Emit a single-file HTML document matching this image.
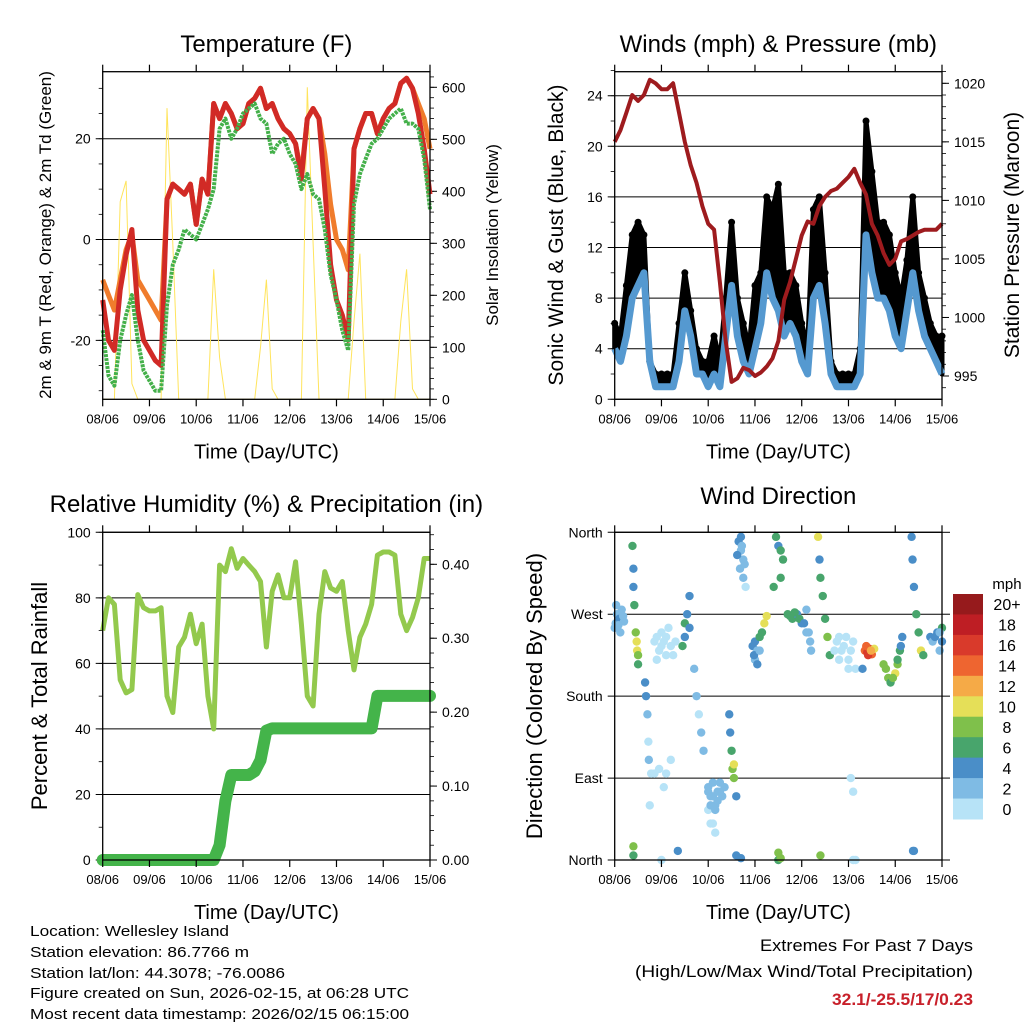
<!DOCTYPE html>
<html><head><meta charset="utf-8">
<style>
html,body{margin:0;padding:0;background:#fff;}
svg{display:block;font-family:"Liberation Sans",Arial,sans-serif;}
</style></head>
<body>
<svg id="chart" width="1024" height="1024" viewBox="0 0 1024 1024" xmlns="http://www.w3.org/2000/svg">
<rect width="1024" height="1024" fill="#fff"/>
<g id="layer"></g>
<g font-size="15" fill="#000">
<text x="30" y="936" textLength="199" lengthAdjust="spacingAndGlyphs">Location: Wellesley Island</text>
<text x="30" y="957" textLength="219" lengthAdjust="spacingAndGlyphs">Station elevation: 86.7766 m</text>
<text x="30" y="978" textLength="255" lengthAdjust="spacingAndGlyphs">Station lat/lon: 44.3078; -76.0086</text>
<text x="30" y="998" textLength="379" lengthAdjust="spacingAndGlyphs">Figure created on Sun, 2026-02-15, at 06:28 UTC</text>
<text x="30" y="1019" textLength="379" lengthAdjust="spacingAndGlyphs">Most recent data timestamp: 2026/02/15 06:15:00</text>
</g>
<g font-size="17" text-anchor="end">
<text x="973" y="951" textLength="213" lengthAdjust="spacingAndGlyphs">Extremes For Past 7 Days</text>
<text x="973" y="977" textLength="338" lengthAdjust="spacingAndGlyphs">(High/Low/Max Wind/Total Precipitation)</text>
<text x="973" y="1005" fill="#c8202a" font-weight="bold" textLength="141" lengthAdjust="spacingAndGlyphs">32.1/-25.5/17/0.23</text>
</g>
</svg>
<script>
// ---- data (3-hour steps, day 0..7) ----
var dayLabels = ["08/06","09/06","10/06","11/06","12/06","13/06","14/06","15/06"];
var temp2m = [-12,-20,-22,-10,-3,2,-14,-20,-22,-24,-25,8,11,10,9,11,3,12,9,27,24,27,25,22,23,27,28,30,26,27,24,22,21,19,12,24,26,24,10,-5,-12,-15,-20,18,22,25,25,21,24,26,27,31,32,30,25,18,9];
var temp9m = [-8,-11,-14,-8,-2,1,-8,-10,-12,-14,-16,8,11,10,9,11,3,12,9,27,24,27,25,22,23,27,28,30,26,27,24,22,21,19,13,24,26,24,17,7,0,-2,-6,18,22,25,25,21,24,26,27,31,32,30,27,24,18];
var dewpt = [-18,-27,-29,-20,-15,-11,-20,-26,-28,-30,-30,-13,-5,-2,2,1,0,3,6,10,22,24,20,22,25,26,27,24,23,17,19,20,17,15,10,13,9,8,2,-7,-12,-18,-22,7,13,16,19,20,22,24,25,26,23,23,22,16,6];
var solar = [0,0,0,380,420,30,0,0,0,0,0,560,300,0,0,0,0,0,0,250,80,0,0,0,0,0,0,100,230,20,0,0,0,0,0,600,300,0,0,0,0,0,0,150,280,0,0,0,0,0,0,150,250,20,0,0,0];
var windMean = [4,3,5,8,9,10,3,1,1,1,1,3,7,5,2,2,1,2,1,5,9,5,3,2,4,6,10,8,7,5,6,5,3,2,8,9,6,2,1,1,1,1,2,13,10,8,8,7,5,4,7,10,7,5,4,3,2];
var windGust = [6,5,9,13,14,13,3,2,2,2,2,6,10,7,4,3,3,5,3,8,14,8,6,4,9,10,16,15,17,10,10,9,6,4,15,16,10,3,2,2,2,2,4,22,18,14,14,13,10,8,11,16,10,8,6,5,5];
var pressure = [1015,1016,1017.5,1019,1018.5,1019,1020.3,1020,1019.5,1019.5,1020,1017.5,1015,1013,1011.5,1009.5,1008,1007.5,1003,998,994.5,994.8,995.7,995.5,995,995.3,995.8,996.5,998,1001.5,1003,1005,1007,1008.2,1008,1009.5,1010.3,1010.8,1011,1011.5,1012,1012.7,1011.5,1010.5,1008,1007,1005.5,1004.5,1005,1006.5,1006.7,1007,1007.3,1007.5,1007.5,1007.5,1008];
var humidity = [70,80,78,55,51,52,81,77,76,76,77,50,45,65,68,75,66,72,50,40,90,88,95,89,92,90,88,85,65,82,87,80,80,91,72,50,47,75,88,83,82,85,70,58,68,72,78,93,94,94,93,75,70,74,80,92,92];
var rainfall = [0,0,0,0,0,0,0,0,0,0,0,0,0,0,0,0,0,0,0,0,0.02,0.08,0.115,0.115,0.115,0.115,0.12,0.135,0.175,0.178,0.178,0.178,0.178,0.178,0.178,0.178,0.178,0.178,0.178,0.178,0.178,0.178,0.178,0.178,0.178,0.178,0.178,0.222,0.222,0.222,0.222,0.222,0.222,0.222,0.222,0.222,0.222];
// wind direction scatter: time (days), direction (deg), speed (mph)
var dirTime = [0.02,0.05,0.1,0.15,0.2,0.38,0.4,0.4,0.42,0.45,0.48,0.5,0.5,0.47,0.65,0.67,0.7,0.72,0.73,0.78,0.75,0.9,0.95,1.0,1.05,1.1,1.15,1.2,0.85,0.95,1.05,1.1,1.2,1.45,1.5,1.55,1.5,1.6,1.6,1.7,1.75,1.8,1.85,1.9,2.0,2.05,2.1,2.15,2.2,2.25,2.3,2.35,2.1,2.0,2.45,2.47,2.5,2.52,2.55,2.55,2.6,2.65,2.7,2.75,2.7,2.75,2.8,2.95,3.0,3.05,3.1,3.15,3.2,3.25,3.0,3.45,3.5,3.55,3.6,3.55,3.4,3.5,3.55,3.7,3.8,3.9,4.0,4.1,4.15,4.2,4.35,4.38,4.4,4.45,4.5,4.55,4.6,4.7,4.8,4.9,5.0,5.1,5.15,5.05,5.1,5.35,5.4,5.45,5.5,5.55,5.3,5.75,5.85,5.9,6.0,6.05,6.1,6.15,6.35,6.37,6.4,6.45,6.5,6.55,6.6,6.38,6.75,6.8,6.9,7.0,6.95,0.4,0.4,1.35,2.6,2.7,3.5,4.4,6.4,1.0,5.1,5.15,
  0.0,0.08,0.12,0.18,0.03,0.85,1.0,1.1,1.25,1.3,0.9,2.0,2.05,2.1,2.15,2.2,2.25,2.05,2.15,2.68,2.72,2.78,2.62,2.98,3.05,3.1,3.75,3.85,3.95,4.05,4.1,4.18,4.75,4.85,4.95,5.05,5.0,4.8,5.38,5.42,5.48,5.8,5.95,6.05,6.12,6.85,6.95,7.0];
var dirDeg = [260,270,265,275,262,345,320,300,280,250,230,225,215,240,195,180,160,130,110,95,60,245,230,250,240,225,255,235,95,100,80,95,110,235,260,270,245,255,290,210,180,160,140,120,80,70,85,60,75,85,70,80,40,55,160,140,120,100,105,90,70,350,340,330,355,310,300,235,240,230,245,250,260,268,220,355,345,340,330,310,300,0,2,270,265,270,260,275,250,230,355,330,310,290,265,245,225,230,245,235,220,240,210,90,75,230,228,232,226,232,210,215,200,195,205,215,230,245,355,330,300,270,250,230,225,10,245,240,250,255,230,5,15,10,5,2,8,5,10,0,0,0,
  255,258,250,268,280,240,235,245,225,240,220,75,60,70,55,65,75,40,30,320,345,325,335,225,215,230,268,272,265,260,250,240,240,230,245,230,210,220,235,225,230,210,200,220,235,245,250,240];
var dirSpeed = [3,2,4,2,3,6,4,4,6,8,10,8,7,10,4,4,2,0,2,0,0,0,0,0,1,0,0,1,0,0,0,0,0,6,6,4,4,4,4,2,2,1,2,3,3,2,3,3,3,2,2,2,1,1,4,4,6,8,10,8,4,4,2,2,4,2,1,4,4,3,6,6,10,10,2,6,4,6,6,6,6,6,8,6,6,4,4,3,3,2,10,4,6,6,6,8,6,1,0,1,0,1,0,0,0,14,16,16,14,10,4,8,8,6,10,8,6,4,4,4,4,6,6,10,6,4,4,3,4,6,2,6,8,4,4,4,8,8,4,0,0,0,
  3,3,2,3,2,0,0,1,0,1,0,2,2,3,2,3,2,1,1,2,2,2,4,4,4,3,6,6,6,4,3,2,1,0,1,1,0,0,14,16,12,8,8,6,4,4,3,4];
var speedBins = ["0","2","4","6","8","10","12","14","16","18","20+"];
var binColors = ["#b7e3f7","#7fbbe4","#4a8ec8","#48a56c","#7fc04b","#e5df58","#f5aa47","#ee6530","#d93a2b","#be1e24","#961a1c"];

var NS="http://www.w3.org/2000/svg";
var root=document.getElementById('layer');
function mk(tag,attrs,parent){var e=document.createElementNS(NS,tag);for(var k in attrs)e.setAttribute(k,attrs[k]);(parent||root).appendChild(e);return e;}
function txt(s,attrs,parent){var e=mk('text',attrs,parent);e.textContent=s;return e;}
function lin(a0,a1,p0,p1){return function(v){return p0+(v-a0)/(a1-a0)*(p1-p0);};}
function idxDay(i){return i/8;}

function panel(name,L,T,R,B){
  var g=mk('g',{});
  
  
  var x=lin(0,7,L,R);
  return {g:g,x:x,L:L,T:T,R:R,B:B};
}
function frameAndTime(p,title,titleY){
  var g=p.g;
  var fr=mk('rect',{x:p.L,y:p.T,width:p.R-p.L,height:p.B-p.T,fill:'none',stroke:'#000','stroke-width':1.3},g);
  
  
  for(var i=0;i<dayLabels.length;i++){
    var xx=p.x(i);
    mk('line',{x1:xx,y1:p.B,x2:xx,y2:p.B+7,stroke:'#000','stroke-width':1.2},g);
    mk('line',{x1:xx,y1:p.T,x2:xx,y2:p.T-7,stroke:'#000','stroke-width':1.2},g);
    var t=txt(dayLabels[i],{x:xx,y:p.B+24,'font-size':13,'text-anchor':'middle'},g);
    
    
  }
  var xt=txt('Time (Day/UTC)',{x:(p.L+p.R)/2,y:p.B+59,'font-size':20,'text-anchor':'middle'},g);
  
  
  var tt=txt(title,{x:(p.L+p.R)/2,y:titleY,'font-size':24,'text-anchor':'middle'},g);
  
  
}
function leftAxis(p,y,ticks,labels,minor,grid){
  var g=p.g;
  for(var i=0;i<minor.length;i++){mk('line',{x1:p.L,y1:y(minor[i]),x2:p.L-4,y2:y(minor[i]),stroke:'#000','stroke-width':0.8},g);}
  for(var i=0;i<ticks.length;i++){
    var yy=y(ticks[i]);
    if(grid) mk('line',{x1:p.L-7,y1:yy,x2:p.R,y2:yy,stroke:'#000','stroke-width':1},g);
    else mk('line',{x1:p.L-7,y1:yy,x2:p.L,y2:yy,stroke:'#000','stroke-width':1},g);
    var t=txt(labels[i],{x:p.L-12,y:yy+5,'font-size':14,'text-anchor':'end'},g);
    
    
  }
}
function rightAxis(p,y,ticks,labels,minor){
  var g=p.g;
  for(var i=0;i<minor.length;i++){mk('line',{x1:p.R,y1:y(minor[i]),x2:p.R+4,y2:y(minor[i]),stroke:'#000','stroke-width':0.8},g);}
  for(var i=0;i<ticks.length;i++){
    var yy=y(ticks[i]);
    mk('line',{x1:p.R,y1:yy,x2:p.R+7,y2:yy,stroke:'#000','stroke-width':1},g);
    var t=txt(labels[i],{x:p.R+12,y:yy+5,'font-size':14,'text-anchor':'start'},g);
    
    
  }
}
function vtitle(p,s,x,yc,size,name){
  var t=txt(s,{x:x,y:yc,'font-size':size,'text-anchor':'middle',transform:'rotate(-90 '+x+' '+yc+')'},p.g);
  
  
}
function pathOf(arr,x,y){var d='';for(var i=0;i<arr.length;i++){d+=(i?'L':'M')+x(idxDay(i)).toFixed(1)+' '+y(arr[i]).toFixed(1);}return d;}
function range(a,b,s){var r=[];for(var v=a;v<=b+1e-9;v+=s)r.push(+v.toFixed(4));return r;}

// ---------- Temperature ----------
var p1=panel('temperature-panel',102.7,71.7,430,399.3);
var yT=lin(-31.7,33.3,399.3,71.7);
var yS=lin(0,600,399.3,87.3);
leftAxis(p1,yT,[-20,0,20],['-20','0','20'],range(-30,30,5),true);
rightAxis(p1,yS,[0,100,200,300,400,500,600],['0','100','200','300','400','500','600'],range(0,620,20));
var sol=mk('path',{d:pathOf(solar,p1.x,yS),fill:'none',stroke:'#ffe45c','stroke-width':1},p1.g);


var l9=mk('path',{d:pathOf(temp9m,p1.x,yT),fill:'none',stroke:'#f07c2c','stroke-width':5,'stroke-linejoin':'round'},p1.g);


var lt=mk('path',{d:pathOf(temp2m,p1.x,yT),fill:'none',stroke:'#d12a26','stroke-width':5,'stroke-linejoin':'round'},p1.g);


var ld=mk('path',{d:pathOf(dewpt,p1.x,yT),fill:'none',stroke:'#44b04a','stroke-width':4,'stroke-dasharray':'3 1','stroke-linejoin':'round'},p1.g);


frameAndTime(p1,'Temperature (F)',52);
vtitle(p1,'2m & 9m T (Red, Orange) & 2m Td (Green)',51,235,17,'y-axis-title');
vtitle(p1,'Solar Insolation (Yellow)',498,235,17,'y2-axis-title');

// ---------- Winds ----------
var p2=panel('winds-panel',614.7,71.7,942,399.3);
var yW=lin(0,24,399.3,95.7);
var yP=lin(995,1020,376,83.3);
leftAxis(p2,yW,[0,4,8,12,16,20,24],['0','4','8','12','16','20','24'],range(0,26,2),true);
rightAxis(p2,yP,[995,1000,1005,1010,1015,1020],['995','1000','1005','1010','1015','1020'],range(994,1021,1));
var gd='';
for(var i=0;i<windGust.length;i++){gd+=(i?'L':'M')+p2.x(idxDay(i)).toFixed(1)+' '+yW(windGust[i]).toFixed(1);}
for(var i=windMean.length-1;i>=0;i--){gd+='L'+p2.x(idxDay(i)).toFixed(1)+' '+yW(windMean[i]).toFixed(1);}
var ga=mk('path',{d:gd+'Z',fill:'#000',stroke:'#000','stroke-width':5,'stroke-linejoin':'round'},p2.g);


for(var i=0;i<windGust.length;i++){
  var c=mk('circle',{cx:p2.x(idxDay(i)),cy:yW(windGust[i]),r:3.5,fill:'#000'},p2.g);
  
  
}
var wm=mk('path',{d:pathOf(windMean,p2.x,yW),fill:'none',stroke:'#5599d0','stroke-width':7,'stroke-linejoin':'round'},p2.g);


var pr=mk('path',{d:pathOf(pressure,p2.x,yP),fill:'none',stroke:'#9e1b1e','stroke-width':4,'stroke-linejoin':'round'},p2.g);


frameAndTime(p2,'Winds (mph) & Pressure (mb)',52);
vtitle(p2,'Sonic Wind & Gust (Blue, Black)',563,235,21,'y-axis-title');
vtitle(p2,'Station Pressure (Maroon)',1019,235,21,'y2-axis-title');

// ---------- Humidity / Precip ----------
var p3=panel('humidity-panel',102.7,532.3,430,860);
var yH=lin(0,100,860,532.3);
var yR=lin(0,0.4,860,564.3);
leftAxis(p3,yH,[0,20,40,60,80,100],['0','20','40','60','80','100'],range(0,100,10),true);
rightAxis(p3,yR,[0,0.1,0.2,0.3,0.4],['0.00','0.10','0.20','0.30','0.40'],range(0,0.44,0.02));
var rn=mk('path',{d:pathOf(rainfall,p3.x,yR),fill:'none',stroke:'#44b44a','stroke-width':12,'stroke-linejoin':'round','stroke-linecap':'round'},p3.g);


var rh=mk('path',{d:pathOf(humidity,p3.x,yH),fill:'none',stroke:'#93c94d','stroke-width':5,'stroke-linejoin':'round'},p3.g);


frameAndTime(p3,'Relative Humidity (%) & Precipitation (in)',512);
vtitle(p3,'Percent & Total Rainfall',47,696,22,'y-axis-title');

// ---------- Wind direction ----------
var p4=panel('wind-direction-panel',614.7,532.3,942,860);
var yD=lin(0,360,860,532.3);
leftAxis(p4,yD,[0,90,180,270,360],['North','East','South','West','North'],[],true);
for(var i=0;i<dirTime.length;i++){
  var b=Math.min(10,Math.floor(dirSpeed[i]/2));
  var c=mk('circle',{cx:p4.x(dirTime[i]),cy:yD(dirDeg[i]),r:4.2,fill:binColors[b]},p4.g);
  
  
}
[0,90,180,270,360].forEach(function(v){mk('line',{x1:p4.R,y1:yD(v),x2:p4.R+8,y2:yD(v),stroke:'#000','stroke-width':1},p4.g);});
frameAndTime(p4,'Wind Direction',504);
vtitle(p4,'Direction (Colored By Speed)',542,696,22,'y-axis-title');
// colorbar
var cb=mk('g',{});


var cbTop=594, cbBot=819, cbH=(cbBot-cbTop)/speedBins.length;
for(var i=0;i<speedBins.length;i++){
  var k=speedBins.length-1-i;
  var r=mk('rect',{x:953,y:cbTop+i*cbH,width:30,height:cbH+0.5,fill:binColors[k]},cb);
  
  
  var t=txt(speedBins[k],{x:1007,y:cbTop+i*cbH+cbH/2+6,'font-size':16,'text-anchor':'middle'},cb);
  
  
}
var mu=txt('mph',{x:1007,y:589,'font-size':15,'text-anchor':'middle'},cb);


</script>
</body></html>
